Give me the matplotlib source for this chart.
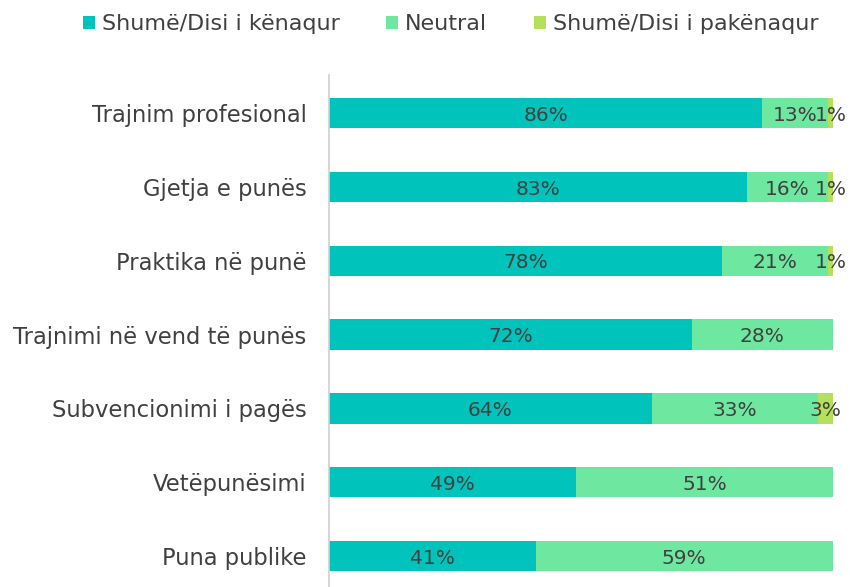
import matplotlib.pyplot as plt
import numpy as np

categories = [
    "Trajnim profesional",
    "Gjetja e punës",
    "Praktika në punë",
    "Trajnimi në vend të punës",
    "Subvencionimi i pagës",
    "Vetëpunësimi",
    "Puna publike",
]
satisfied = [86, 83, 78, 72, 64, 49, 41]
neutral = [13, 16, 21, 28, 33, 51, 59]
dissatisfied = [1, 1, 1, 0, 3, 0, 0]

series_names = ["Shumë/Disi i kënaqur", "Neutral", "Shumë/Disi i pakënaqur"]
colors = ["#00C4BC", "#6EE8A0", "#B6DF5C"]
text_color = "#404040"

plt.rcParams["font.family"] = ["DejaVu Sans"]

fig = plt.figure(figsize=(8.5, 5.87), dpi=100)
ax = fig.add_axes([0.387, 0.0, 0.593, 0.872])

y = np.arange(len(categories))
left = np.zeros(len(categories))
for vals, name, color in zip([satisfied, neutral, dissatisfied], series_names, colors):
    vals = np.array(vals, dtype=float)
    ax.barh(y, vals, left=left, height=0.41, color=color, label=name)
    for yi, l, v in zip(y, left, vals):
        if v > 0:
            ax.text(l + v / 2, yi + 0.03, f"{int(v)}%", ha="center", va="center",
                    fontsize=14.5, color=text_color)
    left += vals

ax.set_xlim(0, 100)
ax.set_ylim(6.42, -0.515)
ax.set_yticks(y)
ax.set_yticklabels(categories, fontsize=16.3, color=text_color)
ax.tick_params(axis="y", length=0, pad=16)
ax.set_xticks([])
for side in ["top", "right", "bottom"]:
    ax.spines[side].set_visible(False)
ax.spines["left"].set_color("#D0D0D0")
ax.spines["left"].set_linewidth(1.2)

fig.legend(loc="upper center", bbox_to_anchor=(0.53, 1.01), ncol=3, frameon=False,
           fontsize=16, handlelength=0.55, handleheight=0.55, handletextpad=0.3,
           columnspacing=2.1, labelcolor=text_color)

fig.savefig("out.png", dpi=100)
